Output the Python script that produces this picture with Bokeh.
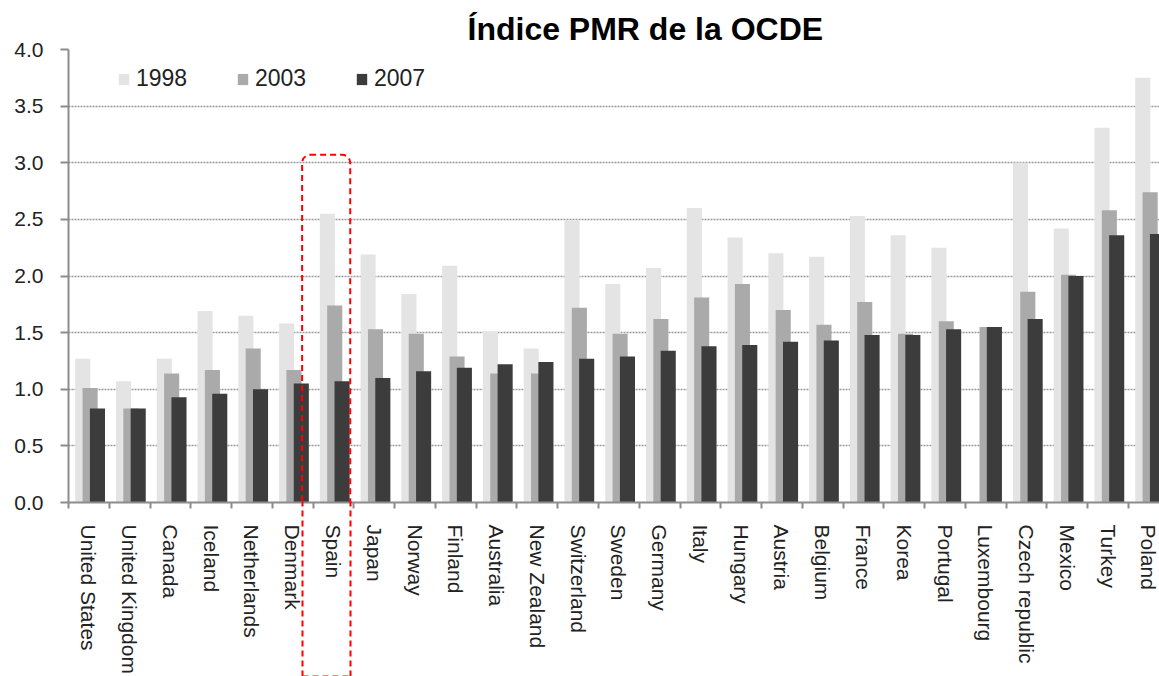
import numpy as np
from bokeh.plotting import figure
from bokeh.models import (ColumnDataSource, Range1d, FixedTicker, BoxAnnotation,
                          PrintfTickFormatter, LinearAxis)
from bokeh.transform import dodge
from bokeh.embed import file_html
from bokeh.resources import INLINE

countries = ["United States", "United Kingdom", "Canada", "Iceland", "Netherlands",
             "Denmark", "Spain", "Japan", "Norway", "Finland", "Australia",
             "New Zealand", "Switzerland", "Sweden", "Germany", "Italy", "Hungary",
             "Austria", "Belgium", "France", "Korea", "Portugal", "Luxembourg",
             "Czech republic", "Mexico", "Turkey", "Poland"]
pmr_1998 = [1.27, 1.07, 1.27, 1.69, 1.65, 1.58, 2.55, 2.19, 1.84, 2.09, 1.51,
            1.36, 2.49, 1.93, 2.07, 2.60, 2.34, 2.20, 2.17, 2.53, 2.36, 2.25,
            np.nan, 3.00, 2.42, 3.31, 3.75]
pmr_2003 = [1.01, 0.83, 1.14, 1.17, 1.36, 1.17, 1.74, 1.53, 1.49, 1.29, 1.14,
            1.14, 1.72, 1.49, 1.62, 1.81, 1.93, 1.70, 1.57, 1.77, 1.49, 1.60,
            1.55, 1.86, 2.01, 2.58, 2.74]
pmr_2007 = [0.83, 0.83, 0.93, 0.96, 1.00, 1.05, 1.07, 1.10, 1.16, 1.19, 1.22,
            1.24, 1.27, 1.29, 1.34, 1.38, 1.39, 1.42, 1.43, 1.48, 1.48, 1.53,
            1.55, 1.62, 2.00, 2.36, 2.37]
years = ["1998", "2003", "2007"]
y_ticks = [0.0, 0.5, 1.0, 1.5, 2.0, 2.5, 3.0, 3.5, 4.0]
highlight = "Spain"

FONT = "Liberation Sans"
RED = "#ff0000"
idx = list(range(len(countries)))
src = ColumnDataSource(dict(x=idx, y98=pmr_1998, y03=pmr_2003, y07=pmr_2007))

p = figure(width=1159, height=676, output_backend="svg", toolbar_location=None,
           x_range=Range1d(-0.5, 26.26), y_range=Range1d(0, 4.0),
           min_border_left=68, min_border_right=0, min_border_top=49,
           min_border_bottom=10)
p.outline_line_color = None
p.background_fill_color = "white"

p.vbar(x=dodge("x", -0.15, range=p.x_range), top="y98", width=0.37, source=src,
       fill_color="#e4e4e4", line_color=None, legend_label=years[0])
p.vbar(x=dodge("x", 0.03, range=p.x_range), top="y03", width=0.37, source=src,
       fill_color="#aaaaaa", line_color=None, legend_label=years[1])
p.vbar(x=dodge("x", 0.21, range=p.x_range), top="y07", width=0.37, source=src,
       fill_color="#3c3c3c", line_color=None, legend_label=years[2])

# title
p.title.text = "Índice PMR de la OCDE"
p.title.text_font = FONT
p.title.text_font_style = "bold"
p.title.text_font_size = "32px"
p.title.text_color = "black"
p.title.align = "left"
p.title.offset = 399
p.title.standoff = 6

# x axis
xa = p.xaxis[0]
xa.ticker = FixedTicker(ticks=idx, minor_ticks=[i - 0.5 for i in range(len(countries) + 1)])
xa.major_label_overrides = {i: c for i, c in enumerate(countries)}
xa.major_label_orientation = "vertical"
xa.major_label_text_font = FONT
xa.major_label_text_font_size = "21px"
xa.major_label_text_color = "#222222"
xa.major_label_standoff = 16
xa.major_tick_line_color = None
xa.major_tick_out = 0
xa.minor_tick_line_color = "#8c8c8c"
xa.minor_tick_line_width = 2
xa.minor_tick_out = 6
xa.minor_tick_in = 0
xa.axis_line_color = "#8c8c8c"
xa.axis_line_width = 2

# y axis
ya = p.yaxis[0]
ya.ticker = FixedTicker(ticks=y_ticks, minor_ticks=[])
ya.formatter = PrintfTickFormatter(format="%.1f")
ya.major_label_text_font = FONT
ya.major_label_text_font_size = "21px"
ya.major_label_text_color = "#222222"
ya.major_label_standoff = 17
ya.major_tick_line_color = "#8c8c8c"
ya.major_tick_line_width = 2
ya.major_tick_out = 8
ya.major_tick_in = 0
ya.minor_tick_line_color = None
ya.axis_line_color = "#8c8c8c"
ya.axis_line_width = 2

p.xgrid.grid_line_color = None
p.ygrid.grid_line_color = "#9a9a9a"
p.ygrid.grid_line_dash = "2 1"
p.ygrid.grid_line_width = 1.5

# legend
lg = p.legend[0]
lg.orientation = "horizontal"
lg.location = (49, 410)
lg.margin = 0
lg.padding = 0
lg.spacing = 12
lg.glyph_width = 13
lg.glyph_height = 14
lg.label_standoff = 6
lg.label_width = 88
lg.label_text_font = FONT
lg.label_text_font_size = "23px"
lg.label_text_color = "#222222"
lg.background_fill_alpha = 0
lg.border_line_color = None

# highlight box around Spain: upper part inside the frame ...
hi = countries.index(highlight)
box_l, box_r = hi - 0.77, hi + 0.41
box = BoxAnnotation(left=box_l, right=box_r, top=3.07, bottom=-0.5,
                    fill_alpha=0, line_color=RED, line_alpha=1, line_width=2,
                    line_dash="6 4", border_radius=8, level="overlay")
p.add_layout(box)
# ... lower part below the frame, drawn by an extra axis under the labels
hax = LinearAxis(ticker=FixedTicker(ticks=[box_l, box_r], minor_ticks=[]),
                 bounds=(box_l, box_r),
                 major_label_overrides={box_l: "", box_r: ""},
                 major_label_text_font_size="0px", major_label_standoff=0,
                 major_tick_in=175, major_tick_out=0,
                 major_tick_line_color=RED, major_tick_line_width=2,
                 major_tick_line_dash="6 4",
                 minor_tick_line_color=None,
                 axis_line_color=RED, axis_line_width=2, axis_line_dash="6 4")
p.add_layout(hax, "below")

open("out.html", "w").write(file_html(p, INLINE))
